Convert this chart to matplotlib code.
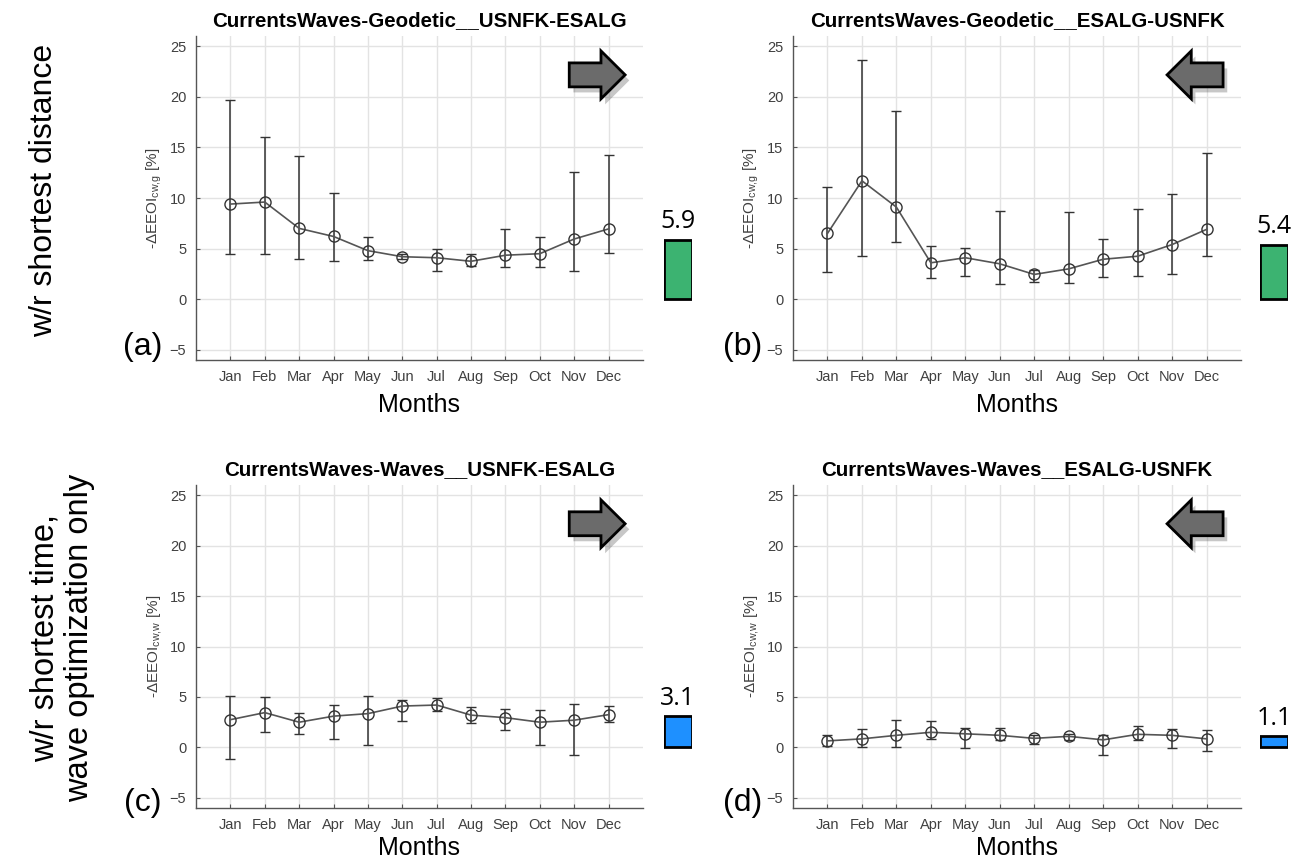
import numpy as np
import matplotlib
matplotlib.use('Agg')
import matplotlib.pyplot as plt
import matplotlib.patheffects as pe
from matplotlib.patches import Polygon
from matplotlib import font_manager

plt.rcParams['font.family'] = 'Liberation Sans'
plt.rcParams['mathtext.fontset'] = 'custom'
plt.rcParams['mathtext.rm'] = 'Liberation Sans'
plt.rcParams['mathtext.it'] = 'Liberation Sans:italic'

installed = {f.name for f in font_manager.fontManager.ttflist}
narrow = 'Liberation Sans Narrow' if 'Liberation Sans Narrow' in installed else 'Liberation Sans'

months = ['Jan', 'Feb', 'Mar', 'Apr', 'May', 'Jun', 'Jul', 'Aug', 'Sep', 'Oct', 'Nov', 'Dec']

titles = ['CurrentsWaves-Geodetic__USNFK-ESALG', 'CurrentsWaves-Geodetic__ESALG-USNFK',
          'CurrentsWaves-Waves__USNFK-ESALG', 'CurrentsWaves-Waves__ESALG-USNFK']
ylabels = [r'-ΔEEOI$_{\mathrm{cw{,}g}}$ [%]', r'-ΔEEOI$_{\mathrm{cw{,}g}}$ [%]',
           r'-ΔEEOI$_{\mathrm{cw{,}w}}$ [%]', r'-ΔEEOI$_{\mathrm{cw{,}w}}$ [%]']
letters = ['(a)', '(b)', '(c)', '(d)']

# monthly mean and the top / bottom of each error bar
a_mean = [9.4, 9.6, 7.0, 6.2, 4.8, 4.2, 4.1, 3.75, 4.35, 4.5, 5.95, 6.95]
a_upper = [19.7, 16.05, 14.1, 10.5, 6.1, 4.45, 4.95, 4.45, 6.95, 6.1, 12.6, 14.25]
a_lower = [4.45, 4.45, 4.0, 3.75, 3.9, 3.95, 2.8, 3.25, 3.2, 3.2, 2.75, 4.6]

b_mean = [6.5, 11.7, 9.1, 3.6, 4.1, 3.5, 2.45, 3.0, 3.95, 4.25, 5.4, 6.9]
b_upper = [11.1, 23.6, 18.55, 5.3, 5.1, 8.7, 2.85, 8.6, 5.95, 8.95, 10.4, 14.45]
b_lower = [2.65, 4.3, 5.7, 2.05, 2.3, 1.55, 1.7, 1.65, 2.15, 2.25, 2.45, 4.3]

c_mean = [2.75, 3.45, 2.5, 3.1, 3.35, 4.1, 4.2, 3.2, 2.95, 2.5, 2.7, 3.25]
c_upper = [5.1, 5.0, 3.45, 4.2, 5.1, 4.7, 4.9, 4.0, 3.85, 3.75, 4.35, 4.1]
c_lower = [-1.1, 1.5, 1.3, 0.8, 0.2, 2.65, 3.65, 2.4, 1.7, 0.2, -0.75, 2.5]

d_mean = [0.65, 0.85, 1.2, 1.5, 1.35, 1.2, 0.9, 1.1, 0.75, 1.3, 1.2, 0.85]
d_upper = [1.25, 1.8, 2.75, 2.65, 1.95, 1.95, 1.2, 1.35, 1.25, 2.15, 1.85, 1.7]
d_lower = [0.1, 0.05, 0.0, 0.85, -0.1, 0.7, 0.35, 0.75, -0.7, 0.75, -0.1, -0.35]

# yearly averages shown as the small bars
averages = [5.9, 5.4, 3.1, 1.1]
bar_colors = ['#3cb371', '#3cb371', '#1e90ff', '#1e90ff']
arrow_right = [True, False, True, False]

means = [a_mean, b_mean, c_mean, d_mean]
uppers = [a_upper, b_upper, c_upper, d_upper]
lowers = [a_lower, b_lower, c_lower, d_lower]

W, H = 1308, 865
fig = plt.figure(figsize=(W / 100, H / 100), dpi=100)

# panel boxes in pixels: left, top, right, bottom
boxes = [(196, 36, 643, 360), (793, 36, 1241, 360),
         (196, 485, 643, 808), (793, 485, 1241, 808)]
bar_x = [664, 1260, 664, 1260]
letter_xy = [(143, 347), (743, 347), (143, 803), (743, 803)]
months_y = [412, 412, 855, 855]

grey = '#404040'
x = np.arange(1, 13)


def draw_arrow(ax, right):
    x0, x1 = 0.835, 0.96
    head = 0.054
    cy, sh, hh = 0.88, 0.037, 0.074
    if right:
        xb = x1 - head
        pts = [(x0, cy - sh), (xb, cy - sh), (xb, cy - hh), (x1, cy),
               (xb, cy + hh), (xb, cy + sh), (x0, cy + sh)]
    else:
        xb = x0 + head
        pts = [(x1, cy - sh), (xb, cy - sh), (xb, cy - hh), (x0, cy),
               (xb, cy + hh), (xb, cy + sh), (x1, cy + sh)]
    p = Polygon(pts, closed=True, transform=ax.transAxes, clip_on=False,
                facecolor='#6b6b6b', edgecolor='black', linewidth=2, zorder=5)
    p.set_path_effects([pe.SimplePatchShadow(offset=(3, -4), alpha=0.25),
                        pe.Normal()])
    ax.add_patch(p)


for i in range(4):
    l, t, r, b = boxes[i]
    ax = fig.add_axes([l / W, 1 - b / H, (r - l) / W, (b - t) / H])
    m = np.array(means[i])
    err = [m - np.array(lowers[i]), np.array(uppers[i]) - m]
    ax.errorbar(x, m, yerr=err, fmt='-o', color='#555555', ecolor='#333333',
                elinewidth=1.1, capsize=3.5, capthick=1.1, linewidth=1.2,
                markersize=8, markerfacecolor='none', markeredgecolor='#333333',
                markeredgewidth=1.0, zorder=3)
    ax.set_xlim(0, 13)
    ax.set_ylim(-6, 26)
    ax.set_xticks(x)
    ax.set_xticklabels(months)
    ax.set_yticks(range(-5, 26, 5))
    ax.grid(True, color='#e3e3e3', linewidth=1.0)
    ax.set_axisbelow(True)
    for s in ['top', 'right']:
        ax.spines[s].set_visible(False)
    for s in ['left', 'bottom']:
        ax.spines[s].set_color('#555555')
        ax.spines[s].set_linewidth(1.0)
    ax.tick_params(direction='in', length=3, colors='#555555', labelcolor=grey,
                   labelsize=10.5, pad=7)
    ax.set_title(titles[i], fontsize=14.8, fontweight='bold', pad=7)
    ax.set_ylabel(ylabels[i], fontsize=11, color=grey, labelpad=4)
    draw_arrow(ax, arrow_right[i])

    # small bar with the yearly average, same vertical scale as the panel
    bax = fig.add_axes([bar_x[i] / W, 1 - b / H, 28 / W, (b - t) / H])
    bax.bar([0], [averages[i]], width=1.0, color=bar_colors[i],
            edgecolor='black', linewidth=2)
    bax.set_xlim(-0.5, 0.5)
    bax.set_ylim(-6, 26)
    bax.axis('off')
    bax.annotate('%.1f' % averages[i], (0, averages[i]), xytext=(0, 8),
                 textcoords='offset points', ha='center', va='baseline',
                 fontsize=18, family='Open Sans')

    lx, ly = letter_xy[i]
    fig.text(lx / W, 1 - ly / H, letters[i], fontsize=23, ha='center', va='center')
    fig.text(((l + r) / 2) / W, 1 - months_y[i] / H, 'Months', fontsize=18,
             ha='center', va='baseline')

fig.text(44 / W, 1 - 190 / H, 'w/r shortest distance', rotation=90, fontsize=23,
         family=narrow, ha='center', va='center')
fig.text(62 / W, 1 - 638 / H, 'w/r shortest time,\nwave optimization only', rotation=90,
         fontsize=23.5, family=narrow, ha='center', va='center', linespacing=1.15,
         multialignment='center')

fig.savefig('out.png', dpi=100)
